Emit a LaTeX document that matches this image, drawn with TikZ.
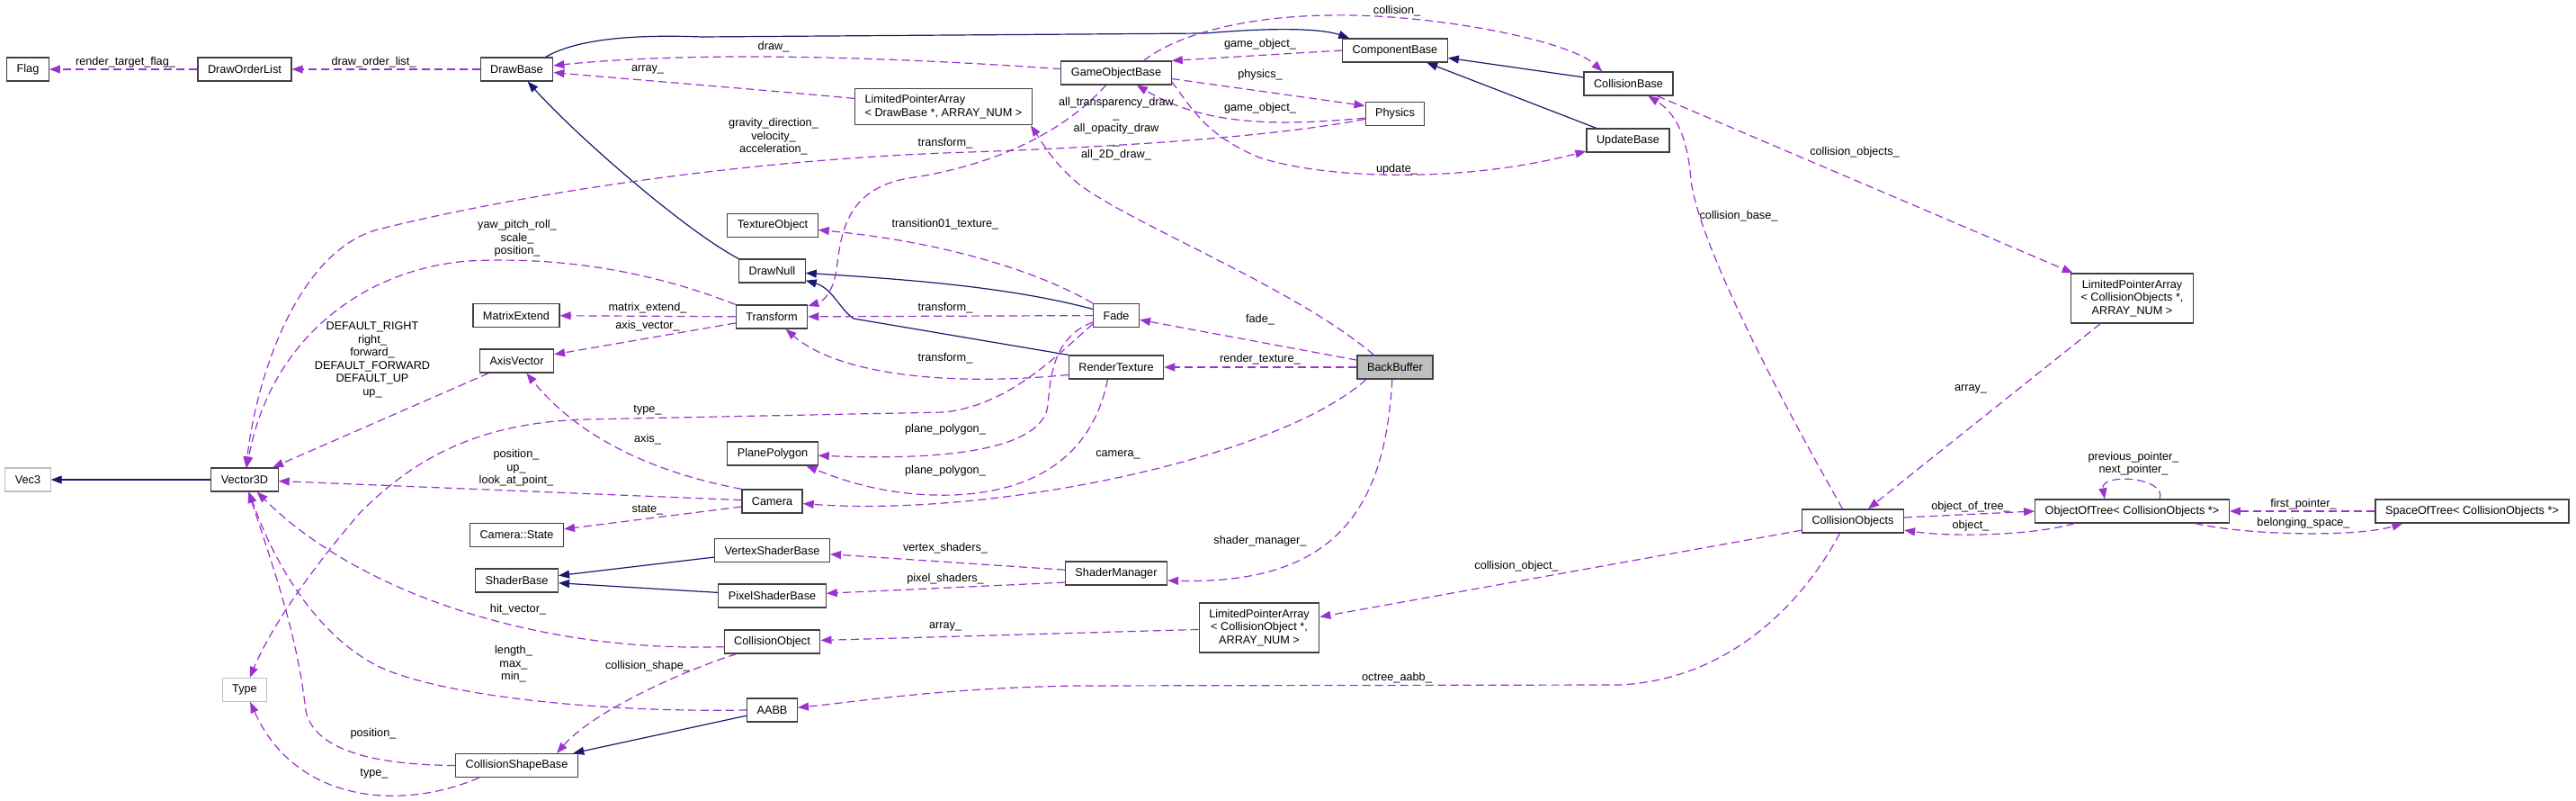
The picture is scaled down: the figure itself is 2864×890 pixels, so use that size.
\documentclass[tikz,border=0pt]{standalone}
\usepackage{fontspec}
\setmainfont{Liberation Sans}
\usetikzlibrary{arrows.meta}

\definecolor{inhblue}{HTML}{191970}
\definecolor{usepurple}{HTML}{9A32CD}
\definecolor{nodoc}{HTML}{BFBFBF}

\begin{document}
\begin{tikzpicture}[x=1pt, y=-1pt, >={Triangle[length=12pt,width=9pt]},
		font=\fontsize{12.7}{14.5}\selectfont,
		cls/.style={draw=black!75, line width=1.2pt, fill=white, inner xsep=11pt, inner ysep=2pt, minimum height=26pt},
		extcls/.style={cls, draw=nodoc},
		inh/.style={->, draw=inhblue, line width=1.2pt},
		use/.style={->, draw=usepurple, line width=1.2pt, dash pattern=on 9pt off 5pt},
		lbl/.style={inner sep=0pt, align=center}]
		\useasboundingbox (0,0) rectangle (2864,890);

		\node[cls] (flag) at (31,77) {Flag};
		\node[cls] (draworderlist) at (272,77) {DrawOrderList};
		\node[cls] (drawbase) at (574.5,77) {DrawBase};
		\node[extcls] (vecthree) at (31,533) {Vec3};
		\node[cls] (vector3d) at (272,533) {Vector3D};
		\node[extcls] (type) at (272,766.5) {Type};
		\node[cls] (matrixextend) at (574,350.5) {MatrixExtend};
		\node[cls] (axisvector) at (574.5,401) {AxisVector};
		\node[cls] (camerastate) at (574.5,594.5) {Camera::State};
		\node[cls] (shaderbase) at (574.5,645) {ShaderBase};
		\node[cls] (collisionshapebase) at (574.5,850.5) {CollisionShapeBase};

		\node[cls, align=left, minimum height=40pt] (lpadraw) at (1049,118.7) {LimitedPointerArray\\< DrawBase *, ARRAY\_NUM >};
		\node[cls] (textureobject) at (859,250.5) {TextureObject};
		\node[cls] (drawnull) at (858.4,301) {DrawNull};
		\node[cls] (transform) at (858,352) {Transform};
		\node[cls] (planepolygon) at (859,504) {PlanePolygon};
		\node[cls] (camera) at (858.5,557) {Camera};
		\node[cls] (vertexshaderbase) at (858.5,611.5) {VertexShaderBase};
		\node[cls] (pixelshaderbase) at (858.5,662) {PixelShaderBase};
		\node[cls] (collisionobject) at (858.5,713) {CollisionObject};
		\node[cls] (aabb) at (858.5,789) {AABB};

		\node[cls] (gameobjectbase) at (1241,81) {GameObjectBase};
		\node[cls] (fade) at (1241,350.5) {Fade};
		\node[cls] (rendertexture) at (1241,408) {RenderTexture};
		\node[cls] (shadermanager) at (1241,637) {ShaderManager};
		\node[cls, align=center, minimum height=55pt] (lpacolobj) at (1400,697.5) {LimitedPointerArray\\< CollisionObject *,\\ARRAY\_NUM >};
		\node[cls] (componentbase) at (1551,56) {ComponentBase};
		\node[cls] (physics) at (1551,126.5) {Physics};
		\node[cls, fill=nodoc] (backbuffer) at (1551,408) {BackBuffer};
		\node[cls] (collisionbase) at (1810.5,93) {CollisionBase};
		\node[cls] (updatebase) at (1810,156) {UpdateBase};

		\node[cls] (collisionobjects) at (2060,579) {CollisionObjects};
		\node[cls, align=center, minimum height=55pt] (lpacolobjs) at (2370.5,331.5) {LimitedPointerArray\\< CollisionObjects *,\\ARRAY\_NUM >};
		\node[cls] (objectoftree) at (2370.5,568) {ObjectOfTree< CollisionObjects *>};
		\node[cls] (spaceoftree) at (2748.5,568) {SpaceOfTree< CollisionObjects *>};

		% base classes
		\draw[inh] (drawnull.north west) .. controls (760,255) and (640,150) .. (drawbase);
		\draw[inh] (fade) .. controls (1120,318) and (1000,310) .. (drawnull);
		\draw[inh] (rendertexture.north west) -- (949,354) .. controls (935,345) and (925,320) .. (drawnull);
		\draw[inh] (drawbase.23) .. controls (640,44) and (700,38) .. (780,41) -- (1340,37) .. controls (1420,30) and (1470,32) .. (componentbase.165);
		\draw[inh] (collisionbase) -- (componentbase);
		\draw[inh] (updatebase) -- (componentbase);
		\draw[inh] (vector3d) -- (vecthree);
		\draw[inh] (vertexshaderbase) -- (shaderbase);
		\draw[inh] (pixelshaderbase) -- (shaderbase);
		\draw[inh] (aabb) -- (collisionshapebase);

		% members
		\draw[use] (draworderlist) -- (flag);
		\draw[use] (drawbase) -- (draworderlist);
		\draw[use] (gameobjectbase) .. controls (1000,64) and (780,56) .. (drawbase);
		\draw[use] (lpadraw) .. controls (850,100) and (700,88) .. (drawbase);
		\draw[use] (physics.190) .. controls (1400,155) and (1200,165) .. (1050,170) .. controls (800,180) and (560,220) .. (420,255) .. controls (330,280) and (285,420) .. (vector3d);
		\draw[use] (componentbase.west) -- (gameobjectbase.north east);
		\draw[use] (gameobjectbase.-6) -- (physics.165);
		\draw[use] (physics.188) .. controls (1420,140) and (1340,140) .. (gameobjectbase);
		\draw[use] (gameobjectbase.24) .. controls (1320,30) and (1420,12) .. (1530,18) .. controls (1640,24) and (1750,50) .. (collisionbase.155);
		\draw[use] (gameobjectbase.-9) .. controls (1325,120) and (1340,150) .. (1400,175) .. controls (1470,198) and (1620,205) .. (updatebase);
		\draw[use] (collisionobjects.130) .. controls (2000,480) and (1890,280) .. (1880,200) .. controls (1876,150) and (1862,125) .. (collisionbase);
		\draw[use] (collisionbase) -- (lpacolobjs);
		\draw[use] (lpacolobjs) -- (collisionobjects);
		\draw[use] (collisionobjects.4) -- (objectoftree.west);
		\draw[use] (objectoftree.192) .. controls (2260,595) and (2170,597) .. (collisionobjects.-10);
		\draw[use] (objectoftree.24) .. controls (2410,530) and (2335,525) .. (objectoftree.156);
		\draw[use] (spaceoftree) -- (objectoftree);
		\draw[use] (objectoftree.-11) .. controls (2500,595) and (2620,597) .. (spaceoftree.190);
		\draw[use] (collisionobjects.223) .. controls (2010,660) and (1930,755) .. (1800,761) -- (1200,762) .. controls (1050,764) and (950,780) .. (aabb);
		\draw[use] (collisionobjects) -- (lpacolobj);
		\draw[use] (lpacolobj) -- (collisionobject);
		\draw[use] (backbuffer.257) .. controls (1540,560) and (1490,650) .. (shadermanager.-8);
		\draw[use] (shadermanager) -- (vertexshaderbase);
		\draw[use] (shadermanager.190) -- (pixelshaderbase);
		\draw[use] (backbuffer.203) .. controls (1420,510) and (1100,575) .. (camera);
		\draw[use] (backbuffer) -- (rendertexture);
		\draw[use] (backbuffer) -- (fade);
		\draw[use] (backbuffer.150) .. controls (1440,320) and (1260,250) .. (1200,205) .. controls (1170,180) and (1160,160) .. (lpadraw.-12);
		\draw[use] (fade.north west) .. controls (1160,305) and (1060,270) .. (textureobject);
		\draw[use] (fade) -- (transform);
		\draw[use] (rendertexture.189) .. controls (1050,430) and (930,415) .. (transform);
		\draw[use] (fade.196) .. controls (1170,375) and (1168,420) .. (1165,450) .. controls (1160,500) and (1050,512) .. (planepolygon);
		\draw[use] (rendertexture.235) .. controls (1220,480) and (1180,545) .. (1060,550) .. controls (990,552) and (940,535) .. (planepolygon.-20);
		\draw[use] (fade.200) .. controls (1170,400) and (1120,450) .. (1050,458) -- (650,466) .. controls (530,470) and (460,510) .. (400,570) .. controls (340,640) and (300,700) .. (type);
		\draw[use] (gameobjectbase.230) .. controls (1180,150) and (1100,185) .. (1010,198) .. controls (940,210) and (935,260) .. (930,300) .. controls (926,325) and (915,335) .. (transform);
		\draw[use] (transform.north west) .. controls (720,300) and (620,285) .. (520,290) .. controls (400,300) and (300,380) .. (vector3d);
		\draw[use] (transform) -- (matrixextend);
		\draw[use] (transform) -- (axisvector);
		\draw[use] (axisvector) -- (vector3d);
		\draw[use] (camera.north west) .. controls (700,520) and (630,470) .. (axisvector);
		\draw[use] (camera) -- (vector3d);
		\draw[use] (camera.190) -- (camerastate);
		\draw[use] (collisionobject.186) .. controls (600,725) and (400,660) .. (vector3d);
		\draw[use] (aabb.west) .. controls (650,792) and (480,770) .. (420,740) .. controls (360,710) and (310,640) .. (vector3d);
		\draw[use] (collisionobject.199) .. controls (760,745) and (660,790) .. (collisionshapebase.17);
		\draw[use] (collisionshapebase.west) .. controls (420,850) and (350,835) .. (340,790) .. controls (330,700) and (300,620) .. (vector3d);
		\draw[use] (collisionshapebase.198) .. controls (450,900) and (330,895) .. (type);

		\node[lbl] (lrtf) at (139.5,69) {render\_target\_flag\_};
		\node[lbl] (ldol) at (415.5,69) {draw\_order\_list\_};
		\node[lbl] (larraydraw) at (720,77) {array\_};
		\node[lbl] (ldraw) at (860,52) {draw\_};
		\node[lbl] (lgameobjcomp) at (1401,49) {game\_object\_};
		\node[lbl] (lcollision) at (1553,12) {collision\_};
		\node[lbl] (lphysics) at (1401,83) {physics\_};
		\node[lbl] (lgameobjphys) at (1401,120) {game\_object\_};
		\node[lbl] (lalldraw) at (1241,143) {all\_transparency\_draw\\\_\\all\_opacity\_draw\\\_\\all\_2D\_draw\_};
		\node[lbl] (lgravity) at (860,152) {gravity\_direction\_\\velocity\_\\acceleration\_};
		\node[lbl] (ltransgob) at (1051,159) {transform\_};
		\node[lbl] (lupdate) at (1553,188) {update\_};
		\node[lbl] (lcolobjs) at (2062,169) {collision\_objects\_};
		\node[lbl] (lcolbase) at (1933,240) {collision\_base\_};
		\node[lbl] (ltransition) at (1051,249) {transition01\_texture\_};
		\node[lbl] (lyaw) at (575,265) {yaw\_pitch\_roll\_\\scale\_\\position\_};
		\node[lbl] (lmatrix) at (720,342) {matrix\_extend\_};
		\node[lbl] (ltransfade) at (1051,342) {transform\_};
		\node[lbl] (lfade) at (1401,355) {fade\_};
		\node[lbl] (laxisvector) at (720,362) {axis\_vector\_};
		\node[lbl] (ldefault) at (414,400) {DEFAULT\_RIGHT\\right\_\\forward\_\\DEFAULT\_FORWARD\\DEFAULT\_UP\\up\_};
		\node[lbl] (ltransrt) at (1051,398) {transform\_};
		\node[lbl] (lrendertex) at (1401,399) {render\_texture\_};
		\node[lbl] (larraycolobjs) at (2191,432) {array\_};
		\node[lbl] (ltypefade) at (720,456) {type\_};
		\node[lbl] (lplanefade) at (1051,477) {plane\_polygon\_};
		\node[lbl] (laxis) at (720,488) {axis\_};
		\node[lbl] (lcamera) at (1243,505) {camera\_};
		\node[lbl] (lpointer) at (2372,515) {previous\_pointer\_\\next\_pointer\_};
		\node[lbl] (lposcam) at (574,520) {position\_\\up\_\\look\_at\_point\_};
		\node[lbl] (lplanert) at (1051,523) {plane\_polygon\_};
		\node[lbl] (lobjtree) at (2191,563) {object\_of\_tree\_};
		\node[lbl] (lfirst) at (2561,560) {first\_pointer\_};
		\node[lbl] (lstate) at (720,567) {state\_};
		\node[lbl] (lobject) at (2191,584) {object\_};
		\node[lbl] (lbelonging) at (2561,581) {belonging\_space\_};
		\node[lbl] (lshadermgr) at (1401,601) {shader\_manager\_};
		\node[lbl] (lvertex) at (1051,609) {vertex\_shaders\_};
		\node[lbl] (lcolobj) at (1686,629) {collision\_object\_};
		\node[lbl] (lpixel) at (1051,643) {pixel\_shaders\_};
		\node[lbl] (lhit) at (576,677) {hit\_vector\_};
		\node[lbl] (larraycolobj) at (1051,696) {array\_};
		\node[lbl] (llength) at (571,738) {length\_\\max\_\\min\_};
		\node[lbl] (lcolshape) at (720,740) {collision\_shape\_};
		\node[lbl] (loctree) at (1553,753) {octree\_aabb\_};
		\node[lbl] (lposcsb) at (415,815) {position\_};
		\node[lbl] (ltypecsb) at (416,860) {type\_};
	\end{tikzpicture}
\end{document}
